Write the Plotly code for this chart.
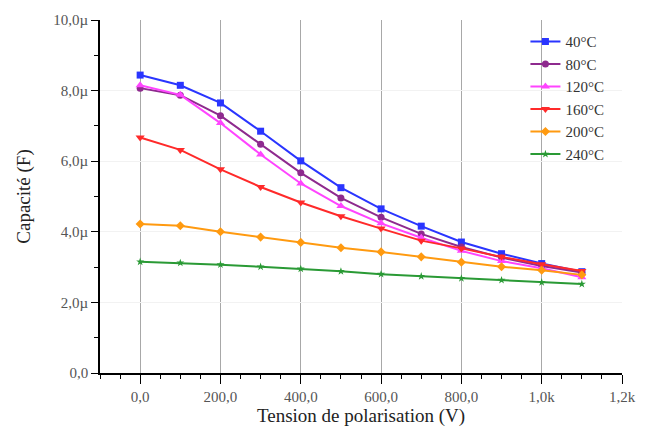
import plotly.graph_objects as go

voltages = [0, 100, 200, 300, 400, 500, 600, 700, 800, 900, 1000, 1100]
series_names = ["40°C", "80°C", "120°C", "160°C", "200°C", "240°C"]
c40 = [8.44, 8.15, 7.65, 6.85, 6.01, 5.25, 4.65, 4.16, 3.71, 3.38, 3.10, 2.87]
c80 = [8.07, 7.87, 7.29, 6.48, 5.67, 4.96, 4.41, 3.94, 3.57, 3.27, 3.03, 2.85]
c120 = [8.15, 7.88, 7.08, 6.19, 5.37, 4.73, 4.24, 3.83, 3.46, 3.17, 2.97, 2.71]
c160 = [6.67, 6.32, 5.77, 5.27, 4.83, 4.44, 4.09, 3.75, 3.53, 3.29, 3.08, 2.89]
c200 = [4.22, 4.17, 4.00, 3.85, 3.70, 3.55, 3.43, 3.29, 3.14, 3.01, 2.91, 2.78]
c240 = [3.15, 3.12, 3.07, 3.01, 2.95, 2.88, 2.80, 2.74, 2.68, 2.63, 2.57, 2.52]

x_tickvals = [0, 200, 400, 600, 800, 1000, 1200]
x_ticktext = ["0,0", "200,0", "400,0", "600,0", "800,0", "1,0k", "1,2k"]
y_tickvals = [0, 2, 4, 6, 8, 10]
y_ticktext = ["0,0", "2,0µ", "4,0µ", "6,0µ", "8,0µ", "10,0µ"]

colors = ["#2a35ff", "#8e2a8e", "#ff44ff", "#ff2a2a", "#ff9a10", "#2a9a35"]
symbols = ["square", "circle", "triangle-up", "triangle-down", "diamond", "star"]
sizes = [7, 7, 8, 8, 7, 6]

fig = go.Figure()
for name, vals, col, sym, sz in zip(series_names, [c40, c80, c120, c160, c200, c240], colors, symbols, sizes):
    fig.add_trace(go.Scatter(
        x=voltages, y=vals, name=name, mode="lines+markers",
        line=dict(color=col, width=2),
        marker=dict(symbol=sym, size=sz, color=col),
    ))

ff = "Liberation Serif"
fig.update_layout(
    width=648, height=437,
    margin=dict(l=100, r=19, t=17, b=64),
    paper_bgcolor="white", plot_bgcolor="white",
    font=dict(family=ff, size=15, color="#333"),
    legend=dict(x=0.815, y=0.985, xanchor="left", yanchor="top",
                bgcolor="rgba(255,255,255,0)", font=dict(size=15, family=ff, color="#333"),
                tracegroupgap=0),
    showlegend=True,
)
fig.update_xaxes(
    range=[-100, 1200], tickvals=x_tickvals, ticktext=x_ticktext,
    showline=True, linecolor="black", linewidth=1.5,
    ticks="outside", ticklen=9, tickwidth=1.3, tickcolor="black",
    minor=dict(dtick=50, tick0=0, ticks="outside", ticklen=4, tickcolor="black", showgrid=False),
    showgrid=True, gridcolor="#a8a8a8", gridwidth=1,
    zeroline=False,
    title=dict(text="Tension de polarisation (V)", font=dict(size=19, family=ff, color="#222"), standoff=1),
    tickfont=dict(size=15, family=ff, color="#555"),
)
fig.update_yaxes(
    range=[0, 10], tickvals=y_tickvals, ticktext=y_ticktext,
    showline=True, linecolor="black", linewidth=1.5,
    ticks="outside", ticklen=7, tickwidth=1.3, tickcolor="black",
    minor=dict(dtick=1, tick0=0, ticks="outside", ticklen=4, tickcolor="black", showgrid=False),
    showgrid=True, gridcolor="#f2f2f2", gridwidth=1, zeroline=False,
    title=dict(text="Capacité (F)", font=dict(size=19, family=ff, color="#222"), standoff=18),
    tickfont=dict(size=15, family=ff, color="#555"),
)

fig.write_html("out.html")
